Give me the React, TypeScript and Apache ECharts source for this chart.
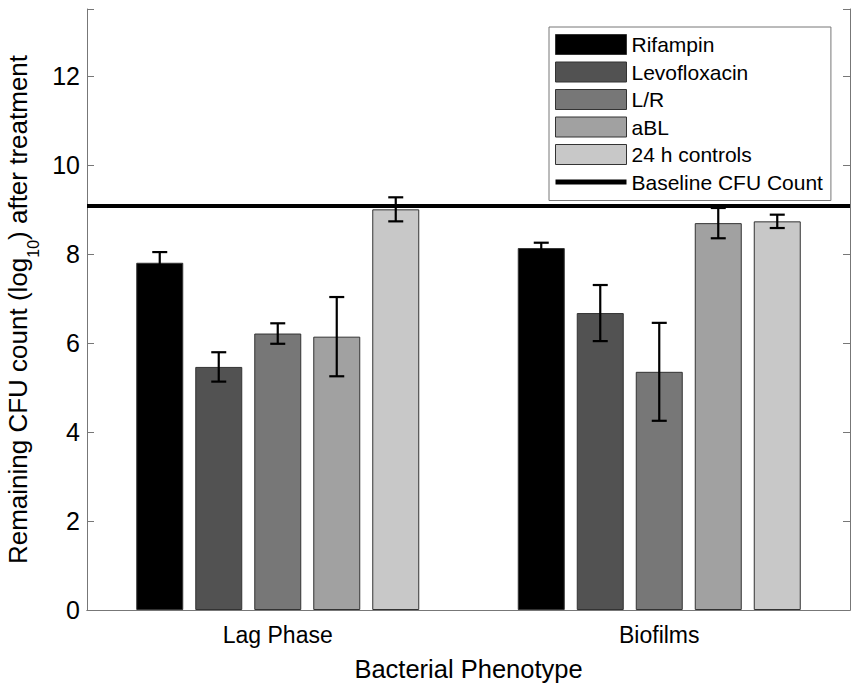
import React, { useEffect, useRef } from "react";
import * as echarts from "echarts";

const categories = ["Lag Phase", "Biofilms"];
const seriesNames = ["Rifampin", "Levofloxacin", "L/R", "aBL", "24 h controls"];
const rifampin = [7.8, 8.13];
const rifampinErr = [0.24, 0.12];
const levofloxacin = [5.46, 6.67];
const levofloxacinErr = [0.33, 0.63];
const lr = [6.21, 5.35];
const lrErr = [0.23, 1.1];
const abl = [6.14, 8.69];
const ablErr = [0.89, 0.34];
const controls = [9.0, 8.73];
const controlsErr = [0.27, 0.15];
const baselineName = "Baseline CFU Count";
const baseline = 9.08;
const yTicks = [0, 2, 4, 6, 8, 10, 12];

const means = [rifampin, levofloxacin, lr, abl, controls];
const errs = [rifampinErr, levofloxacinErr, lrErr, ablErr, controlsErr];
const colors = ["#000000", "#525252", "#777777", "#a1a1a1", "#c8c8c8"];

const FONT = "'Liberation Sans', Arial, sans-serif";
const BAR_W = 47;
const GAP = 12;
const AXIS_COLOR = "#777777";

export default function App() {
  const ref = useRef<HTMLDivElement>(null);
  useEffect(() => {
    if (!ref.current) return;
    const chart = echarts.init(ref.current, undefined, { renderer: "svg" });
    const n = seriesNames.length;
    const barSeries = seriesNames.map((name, i) => ({
      name,
      type: "bar",
      xAxisIndex: 0,
      yAxisIndex: 0,
      data: means[i],
      barWidth: BAR_W,
      barGap: (GAP / BAR_W) * 100 + "%",
      itemStyle: { color: colors[i], borderColor: "#333333", borderWidth: 1 },
      z: 2,
    }));
    const errSeries = seriesNames.map((name, i) => ({
      name: "err-" + name,
      type: "custom",
      xAxisIndex: 0,
      yAxisIndex: 0,
      z: 5,
      data: categories.map((_, c) => [c, means[i][c], errs[i][c]]),
      renderItem: (params: any, api: any) => {
        const cat = api.value(0);
        const m = api.value(1);
        const e = api.value(2);
        const offset = (i - (n - 1) / 2) * (BAR_W + GAP);
        const cx = api.coord([cat, m])[0] + offset;
        const yt = api.coord([cat, m + e])[1];
        const yb = api.coord([cat, m - e])[1];
        const half = 7.5;
        const style = { stroke: "#000", lineWidth: 2.2 };
        return {
          type: "group",
          children: [
            { type: "line", shape: { x1: cx, y1: yt, x2: cx, y2: yb }, style },
            { type: "line", shape: { x1: cx - half, y1: yt, x2: cx + half, y2: yt }, style },
            { type: "line", shape: { x1: cx - half, y1: yb, x2: cx + half, y2: yb }, style },
          ],
        };
      },
    }));
    const option: any = {
      animation: false,
      backgroundColor: "#ffffff",
      textStyle: { fontFamily: FONT },
      grid: { left: 87, right: 7, top: 9, bottom: 79, outerBoundsMode: "none", containLabel: false },
      legend: {
        orient: "vertical",
        left: 549,
        top: 27,
        padding: [7, 8, 8, 6],
        itemWidth: 71,
        itemHeight: 20,
        itemGap: 6.5,
        borderColor: AXIS_COLOR,
        borderWidth: 1,
        backgroundColor: "#ffffff",
        textStyle: { fontSize: 21, color: "#000", fontFamily: FONT },
        itemStyle: { borderColor: "#333333", borderWidth: 1 },
        data: [
          ...seriesNames.map((name) => ({ name, icon: "rect" })),
          { name: baselineName, icon: "path://M0,0H71V5H0Z", itemStyle: { borderWidth: 0 } },
        ],
      },
      xAxis: [
        {
          type: "category",
          data: categories,
          position: "bottom",
          axisLine: { show: true, lineStyle: { color: AXIS_COLOR, width: 1 } },
          axisTick: { show: true, inside: true, length: 7, alignWithLabel: true, lineStyle: { color: AXIS_COLOR } },
          axisLabel: { fontSize: 23, color: "#000", margin: 13, fontFamily: FONT },
          name: "Bacterial Phenotype",
          nameLocation: "middle",
          nameGap: 46,
          nameTextStyle: { fontSize: 25.5, color: "#000", fontFamily: FONT },
          splitLine: { show: false },
        },
        {
          type: "category",
          data: categories,
          position: "top",
          axisLine: { show: true, lineStyle: { color: AXIS_COLOR, width: 1 } },
          axisTick: { show: false },
          axisLabel: { show: false },
          splitLine: { show: false },
        },
      ],
      yAxis: [
        {
          type: "value",
          min: 0,
          max: 13.5,
          interval: 2,
          position: "left",
          axisLine: { show: true, lineStyle: { color: AXIS_COLOR, width: 1 } },
          axisTick: { show: true, inside: true, length: 7, lineStyle: { color: AXIS_COLOR } },
          axisLabel: {
            fontSize: 25,
            color: "#000",
            margin: 7,
            fontFamily: FONT,
            formatter: (v: number) => (yTicks.includes(v) ? String(v) : ""),
          },
          splitLine: { show: false },
          name: "{a|Remaining CFU count (log}{s|10}{a|) after treatment}",
          nameLocation: "middle",
          nameGap: 45,
          nameTextStyle: {
            fontSize: 26,
            color: "#000",
            fontFamily: FONT,
            rich: {
              a: { fontSize: 26, color: "#000", fontFamily: FONT, verticalAlign: "bottom", padding: [0, 0, 10, 0] },
              s: { fontSize: 16, color: "#000", fontFamily: FONT, verticalAlign: "bottom" },
            },
          },
        },
        {
          type: "value",
          min: 0,
          max: 13.5,
          interval: 2,
          position: "right",
          axisLine: { show: true, lineStyle: { color: AXIS_COLOR, width: 1 } },
          axisTick: { show: true, inside: true, length: 7, lineStyle: { color: AXIS_COLOR } },
          axisLabel: { show: false },
          splitLine: { show: false },
        },
      ],
      series: [
        ...barSeries,
        ...errSeries,
        {
          name: baselineName,
          type: "line",
          xAxisIndex: 0,
          yAxisIndex: 0,
          data: [],
          color: "#000000",
          itemStyle: { color: "#000000" },
          lineStyle: { color: "#000000", width: 4 },
          symbol: "none",
          z: 4,
          markLine: {
            silent: true,
            symbol: "none",
            label: { show: false },
            lineStyle: { color: "#000000", width: 4, type: "solid" },
            data: [{ yAxis: baseline }],
          },
        },
      ],
    };
    chart.setOption(option);
    return () => chart.dispose();
  }, []);
  return (
    <div
      ref={ref}
      style={{ position: "fixed", left: 0, top: 0, width: 857, height: 689, background: "#fff" }}
    />
  );
}
